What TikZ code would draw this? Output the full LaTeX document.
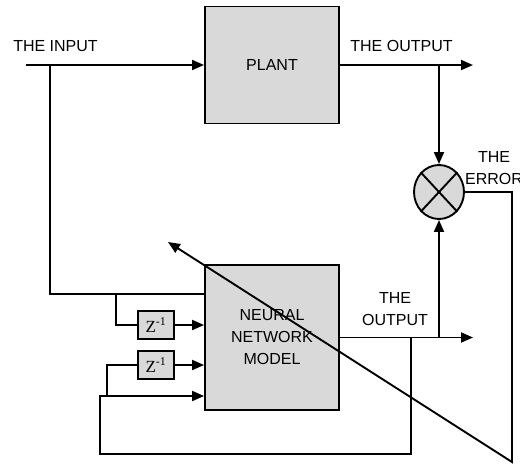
\documentclass[tikz,border=0pt]{standalone}
\usepackage{fontspec}
\setmainfont{Liberation Sans}
\newfontfamily\zfont{Liberation Serif}
\usetikzlibrary{positioning,arrows.meta,shapes.geometric}

\begin{document}
\begin{tikzpicture}[x=1pt, y=-1pt,
    font=\fontsize{16}{22}\selectfont, >={Triangle[length=12pt,width=10pt]},
    blk/.style={draw, line width=1.9pt, fill=black!15, align=center, inner sep=0pt,
                minimum width=134pt},
    delay/.style={draw, line width=1.9pt, fill=black!15, inner sep=0pt,
                  minimum width=36pt, minimum height=28pt, font=\zfont\fontsize{17}{20}\selectfont},
    mult/.style={draw, line width=1.9pt, fill=black!15, ellipse, minimum width=50pt, minimum height=54pt},
    lbl/.style={align=center, inner sep=0pt},
    wire/.style={line width=1.9pt},
    flow/.style={->, line width=1.9pt},
]
\useasboundingbox (0,0) rectangle (520,467);

% blocks
\node[blk, minimum height=117pt] (plant) at (272,65) {PLANT};
\node[blk, minimum height=145pt] (nn) at (272,337.5) {NEURAL\\NETWORK\\MODEL};
\node[mult] (err) at (439,192) {};
\draw[wire] (err.north west) -- (err.south east);
\draw[wire] (err.north east) -- (err.south west);
\node[delay] (z1) at (156,325) {Z\textsuperscript{-1}};
\node[delay] (z2) at (156,365) {Z\textsuperscript{-1}};

% labels
\node[lbl] (inlbl) at (55.5,46) {THE INPUT};
\node[lbl] (outlbl) at (401.5,46) {THE OUTPUT};
\node[lbl] (nnlbl) at (395,309) {THE\\OUTPUT};
\node[lbl] (errlbl) at (494,168.5) {THE\\ERROR};

% plant path
\coordinate (in) at (26,65);
\coordinate (pout) at (473,65);
\draw[flow] (in) -- (plant.west);
\draw[flow] (plant.east) -- (pout);
\draw[flow] (err.north |- plant.east) -- (err.north);

% model path
\coordinate (nout) at (473,337.5);
\draw[flow] (nn.east) -- (nout);
\draw[flow] (err.south |- nn.east) -- (err.south);

% input taps
\coordinate (itap) at (50,65);
\draw[wire] (itap) |- ([yshift=-30pt]nn.north west);
\coordinate (t1) at (116,295);
\draw[wire] (t1) |- (z1.west);
\draw[flow] (z1.east) -- (z1.east -| nn.west);

% feedback of model output
\coordinate (ftap) at (411,337.5);
\coordinate (fbl) at (100,454);
\draw[flow] (ftap) |- (fbl) |- (nn.west |- 0,396);
\coordinate (t2) at (107,396);
\draw[wire] (t2) |- (z2.west);
\draw[flow] (z2.east) -- (z2.east -| nn.west);

% error adapts the model
\coordinate (ecorner) at (512,462);
\coordinate (adapt) at (168,242);
\draw[flow] (err.east) -| (ecorner) -- (adapt);
\end{tikzpicture}
\end{document}
